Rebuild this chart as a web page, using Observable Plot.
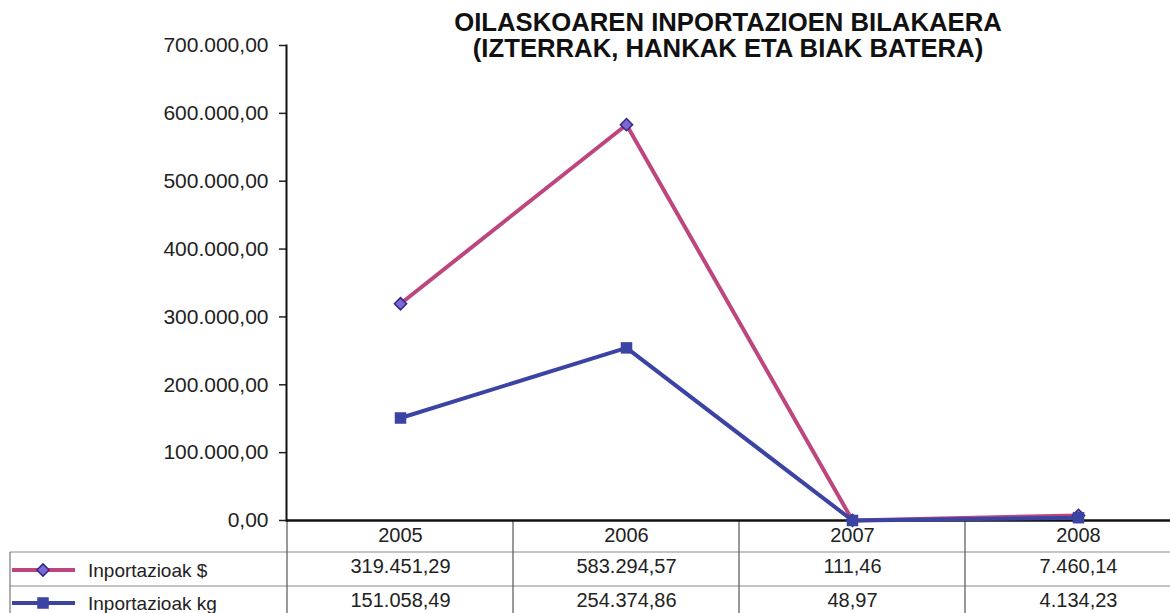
<!DOCTYPE html>
<html><head><meta charset="utf-8">
<script src="https://cdn.jsdelivr.net/npm/d3@7"></script>
<script src="https://cdn.jsdelivr.net/npm/@observablehq/plot@0.6"></script>
<style>
html,body{margin:0;padding:0;background:#fff;overflow:hidden}
#wrap{position:relative;width:1170px;height:613px}
#wrap svg{position:absolute;left:0;top:0}
#title{position:absolute;left:728px;top:9px;transform:translateX(-50%);font:bold 25.7px "Liberation Sans",Arial,sans-serif;line-height:26px;text-align:center;white-space:nowrap;color:#111;z-index:2}
</style></head><body>
<div id="wrap"><div id="title">OILASKOAREN INPORTAZIOEN BILAKAERA<br>(IZTERRAK, HANKAK ETA BIAK BATERA)</div></div>
<script>
const years = ["2005", "2006", "2007", "2008"];
const seriesNames = ["Inportazioak $", "Inportazioak kg"];
const valuesUSD = [319451.29, 583294.57, 111.46, 7460.14];
const valuesKG = [151058.49, 254374.86, 48.97, 4134.23];
const yTicks = [0, 100000, 200000, 300000, 400000, 500000, 600000, 700000];

const pink = "#bd467f", blue = "#3b44a3";
const locale = d3.formatLocale({decimal: ",", thousands: ".", grouping: [3], currency: ["", ""]});
const fmt = locale.format(",.2f");

const usd = years.map((year, i) => ({year, value: valuesUSD[i], series: seriesNames[0]}));
const kg = years.map((year, i) => ({year, value: valuesKG[i], series: seriesNames[1]}));

const chart = Plot.plot({
  width: 1170, height: 613,
  marginTop: 45, marginBottom: 93, marginLeft: 286, marginRight: 0,
  style: {fontFamily: '"Liberation Sans", Arial, sans-serif', color: "#222", background: "transparent", overflow: "visible"},
  x: {type: "point", domain: years, range: [286, 1191], padding: 0.5, axis: null},
  y: {domain: [0, 700000], axis: null},
  marks: [
    Plot.axisY(yTicks, {tickSize: 7, tickPadding: 11, fontSize: 21, tickFormat: fmt, strokeWidth: 1.5, label: null}),
    Plot.axisX(years, {tickSize: 0, tickPadding: 7, fontSize: 20, label: null}),
    Plot.frame({anchor: "left", stroke: "#111", strokeWidth: 2}),
    Plot.ruleY([0], {stroke: "#111", strokeWidth: 2.5}),
    Plot.line(usd, {x: "year", y: "value", stroke: pink, strokeWidth: 4}),
    Plot.dot(usd, {x: "year", y: "value", symbol: "diamond2", r: 5.5, fill: "#7a6ad0", stroke: "#33288a", strokeWidth: 1.5}),
    Plot.line(kg, {x: "year", y: "value", stroke: blue, strokeWidth: 4}),
    Plot.dot(kg, {x: "year", y: "value", symbol: "square", r: 6.5, fill: blue}),
    Plot.text(usd, {x: "year", text: d => fmt(d.value), frameAnchor: "bottom", dy: 52, fontSize: 20}),
    Plot.text(kg, {x: "year", text: d => fmt(d.value), frameAnchor: "bottom", dy: 86, fontSize: 20})
  ]
});
document.getElementById("wrap").appendChild(chart);

// data table grid and legend keys
const svg = d3.select(chart);
const xs = chart.scale("x");
const y0 = chart.scale("y").apply(0);
const step = xs.apply(years[1]) - xs.apply(years[0]);
const edges = years.map(y => xs.apply(y) - step / 2);
const W = 1170, H = 613, left = 10;
const rowLines = [y0 + 32, y0 + 66];
const grid = svg.insert("g", ":first-child");
grid.selectAll("line.h").data(rowLines).join("line")
  .attr("x1", left).attr("x2", W).attr("y1", d => d).attr("y2", d => d)
  .attr("stroke", "#8a8a8a").attr("stroke-width", 1.2);
grid.selectAll("line.v").data(edges).join("line")
  .attr("x1", d => d).attr("x2", d => d).attr("y1", y0).attr("y2", H)
  .attr("stroke", "#555").attr("stroke-width", 1.2);
grid.append("line").attr("x1", left).attr("x2", left).attr("y1", rowLines[0]).attr("y2", H)
  .attr("stroke", "#777").attr("stroke-width", 1.2);

const keys = [
  {name: seriesNames[0], color: pink, sym: d3.symbolDiamond2, size: Math.PI * 5.5 * 5.5, fill: "#7a6ad0", stroke: "#33288a", y: y0 + 50},
  {name: seriesNames[1], color: blue, sym: d3.symbolSquare, size: Math.PI * 6.5 * 6.5, fill: blue, stroke: "none", y: y0 + 83}
];
const kg2 = svg.append("g").attr("text-anchor", "start");
keys.forEach(k => {
  kg2.append("line").attr("x1", 12).attr("x2", 75).attr("y1", k.y).attr("y2", k.y).attr("stroke", k.color).attr("stroke-width", 4);
  kg2.append("path").attr("d", d3.symbol(k.sym, k.size)()).attr("transform", `translate(43,${k.y})`)
    .attr("fill", k.fill).attr("stroke", k.stroke).attr("stroke-width", 1.5);
  kg2.append("text").attr("x", 88).attr("y", k.y).attr("dy", "0.35em").attr("font-size", 19).attr("fill", "#222").text(k.name);
});
</script>
</body></html>
